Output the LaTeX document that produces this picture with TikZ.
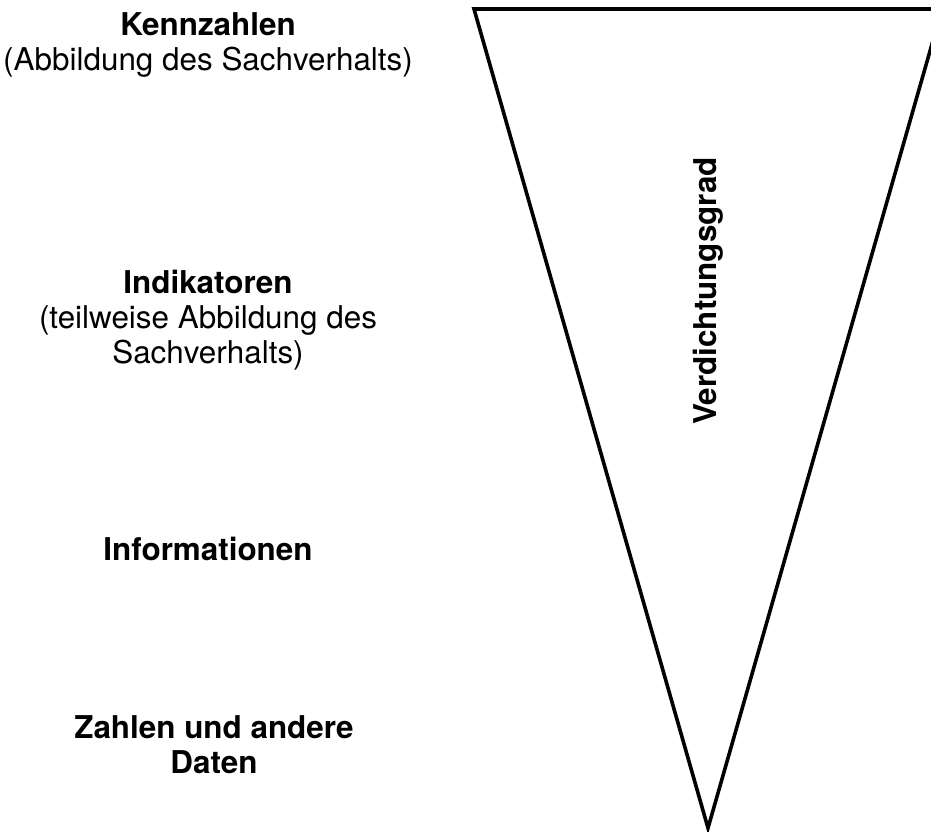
\documentclass[tikz,border=0pt]{standalone}
\usepackage{fontspec}
\setmainfont{TeX Gyre Heros}
\begin{document}
\begin{tikzpicture}[x=0.5pt,y=-0.5pt,
  stufe/.style={align=center,font=\fontsize{15.7}{17.5}\selectfont},
  titel/.style={font=\bfseries}]
  \clip (0,0) rectangle (931,831);
  \coordinate (tl) at (474,9);
  \coordinate (tr) at (942,9);
  \coordinate (sp) at (708,828);
  \draw[line width=1.8pt,line join=miter] (tl) -- (tr) -- (sp) -- cycle;

  \node[stufe] (kenn) at (208,45) {\textbf{Kennzahlen}\\(Abbildung des Sachverhalts)};
  \node[stufe] (indi) at (208,320) {\textbf{Indikatoren}\\(teilweise Abbildung des\\Sachverhalts)};
  \node[stufe] (info) at (208,549) {\textbf{Informationen}};
  \node[stufe] (zahl) at (214,745) {\textbf{Zahlen und andere}\\\textbf{Daten}};
  \node[stufe,rotate=90] (grad) at (708,291) {\textbf{Verdichtungsgrad}};
\end{tikzpicture}
\end{document}
